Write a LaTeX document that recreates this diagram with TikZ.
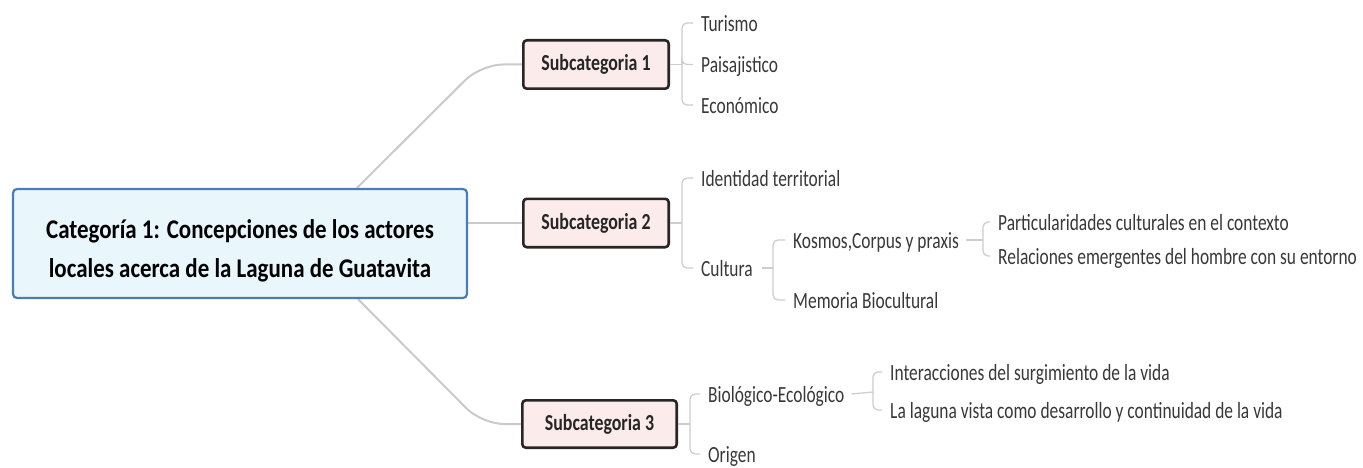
\documentclass[tikz,border=0pt]{standalone}
\usepackage{fontspec}
\setmainfont{Carlito}[FakeStretch=0.85]
\newfontfamily\leaffont{Carlito}[FakeStretch=0.75]
\newfontfamily\subfont{Carlito}[FakeStretch=0.78]
\usetikzlibrary{calc,backgrounds}
\definecolor{mainfill}{HTML}{E9F6FC}
\definecolor{maindraw}{HTML}{4A7DB5}
\definecolor{subfill}{HTML}{FCEBEB}
\definecolor{subdraw}{HTML}{262626}
\definecolor{linkc}{HTML}{CACACA}
\definecolor{leafc}{HTML}{383838}
\definecolor{bracec}{HTML}{CDCDCD}
\begin{document}
\begin{tikzpicture}[x=1pt,y=-1pt,
  mainbox/.style={draw=maindraw, line width=2.2pt, fill=mainfill, rounded corners=4pt,
    minimum width=454pt, minimum height=109pt, align=center,
    font=\bfseries\fontsize{27}{39}\selectfont, text=black, inner sep=0pt},
  subbox/.style={draw=subdraw, line width=2.6pt, fill=subfill, rounded corners=3.5pt,
    minimum height=48.4pt, font=\subfont\bfseries\fontsize{22.9}{26}\selectfont, text=black!85, inner sep=0pt},
  leaf/.style={anchor=west, inner sep=0pt, text=leafc, font=\leaffont\fontsize{23.2}{26}\selectfont,
    text height=20pt, text depth=3pt},
  link/.style={draw=linkc, line width=2pt, rounded corners=22pt},
  brace/.style={draw=bracec, line width=1.3pt, rounded corners=5pt}]
\useasboundingbox (0,0) rectangle (1363,468);

% main and subcategories
\node[mainbox] (main) at (240,243.5) {\raisebox{-7pt}[\height][\depth]{\begin{tabular}{@{}c@{}}Categoría 1: Concepciones de los actores\\locales acerca de la Laguna de Guatavita\end{tabular}}};
\node[subbox, minimum width=145.4pt] (s1) at (596,64.5) {Subcategoria 1};
\node[subbox, minimum width=145.4pt] (s2) at (596,223) {Subcategoria 2};
\node[subbox, minimum width=154.4pt, minimum height=47.4pt] (s3) at (599.5,424) {Subcategoria 3};

% leaves
\node[leaf] (t1) at (701,23) {Turismo};
\node[leaf] (t2) at (701,64.5) {Paisajistico};
\node[leaf] (t3) at (701,105) {Económico};
\node[leaf] (id) at (701,178) {Identidad territorial};
\node[leaf] (cu) at (701,268) {Cultura};
\node[leaf] (ko) at (793,240) {Kosmos,Corpus y praxis};
\node[leaf] (me) at (793,300) {Memoria Biocultural};
\node[leaf] (pa) at (998,222) {Particularidades culturales en el contexto};
\node[leaf] (re) at (998,256) {Relaciones emergentes del hombre con su entorno};
\node[leaf] (bi) at (708,394) {Biológico-Ecológico};
\node[leaf] (or) at (708,454) {Origen};
\node[leaf] (in) at (890,372) {Interacciones del surgimiento de la vida};
\node[leaf] (la) at (890,410) {La laguna vista como desarrollo y continuidad de la vida};

% junctions
\coordinate (m1) at ([xshift=117pt]main.north);
\coordinate (m3) at ([xshift=118pt]main.south);
\coordinate (b1) at ([xshift=-41pt]s1.west);
\coordinate (b3) at ([xshift=-39pt]s3.west);
\coordinate (j1) at ([xshift=12pt]s1.east);
\coordinate (j2) at ([xshift=12pt]s2.east);
\coordinate (j3) at ([xshift=12pt]s3.east);
\coordinate (jc) at (773,268);
\coordinate (jk) at (983,240);
\coordinate (jb) at (873,392);

\begin{scope}[on background layer]
  \draw[link] (m1) -- (b1) -- (s1.west);
  \draw[link] (main.east |- s2.west) -- (s2.west);
  \draw[link] (m3) -- (b3) -- (s3.west);
\end{scope}

% braces
\draw[brace] (s1.east) -- (j1);
\draw[brace] (j1) |- ([xshift=-8pt]t1.west);
\draw[brace] (j1) |- ([xshift=-8pt]t2.west);
\draw[brace] (j1) |- ([xshift=-8pt]t3.west);

\draw[brace] (s2.east) -- (j2);
\draw[brace] (j2) |- ([xshift=-8pt]id.west);
\draw[brace] (j2) |- ([xshift=-8pt]cu.west);

\draw[brace] ([xshift=9pt]cu.east) -- (jc);
\draw[brace] (jc) |- ([xshift=-8pt]ko.west);
\draw[brace] (jc) |- ([xshift=-8pt]me.west);

\draw[brace] ([xshift=7pt]ko.east) -- (jk);
\draw[brace] (jk) |- ([xshift=-8pt]pa.west);
\draw[brace] (jk) |- ([xshift=-8pt]re.west);

\draw[brace] (s3.east) -- (j3);
\draw[brace] (j3) |- ([xshift=-8pt]bi.west);
\draw[brace] (j3) |- ([xshift=-8pt]or.west);

\draw[brace] ([xshift=7pt]bi.east) -- (jb);
\draw[brace] (jb) |- ([xshift=-8pt]in.west);
\draw[brace] (jb) |- ([xshift=-8pt]la.west);
\end{tikzpicture}
\end{document}
